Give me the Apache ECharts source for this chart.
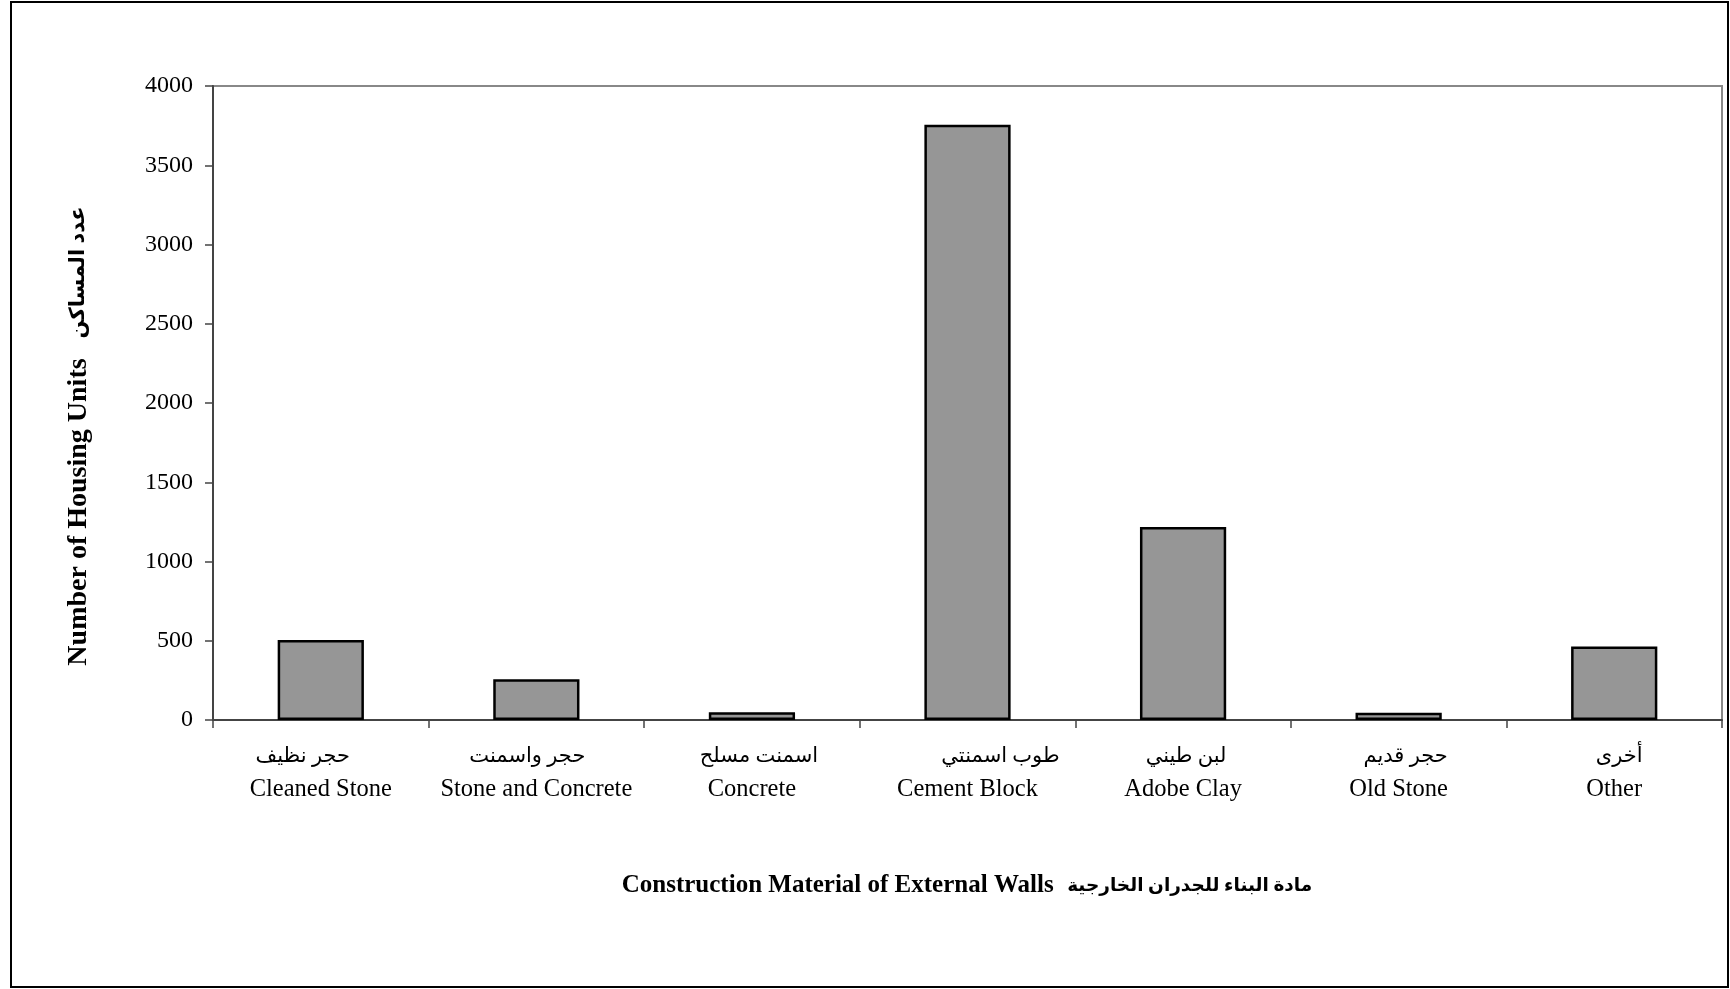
<!DOCTYPE html>
<html>
<head>
<meta charset="utf-8">
<script src="https://cdn.jsdelivr.net/npm/echarts@6/dist/echarts.min.js"></script>
<style>
html,body{margin:0;padding:0;background:#fff;}
#chart{width:1730px;height:989px;}
</style>
</head>
<body>
<div id="chart"></div>
<script>
const categoriesAr = ['حجر نظيف', 'حجر واسمنت', 'اسمنت مسلح', 'طوب اسمنتي', 'لبن طيني', 'حجر قديم', 'أخرى'];
const categoriesEn = ['Cleaned Stone', 'Stone and Concrete', 'Concrete', 'Cement Block', 'Adobe Clay', 'Old Stone', 'Other'];
const housingUnits = [505, 257, 49, 3755, 1217, 45, 463];
const yTicks = [0, 500, 1000, 1500, 2000, 2500, 3000, 3500, 4000];

const FONT = '"Liberation Serif", "Times New Roman", "DejaVu Sans", serif';
// horizontal nudges (px) of the Arabic label line, as in the original layout
const arShift = [-18, -9, 7, 33, 3, 7, 5];
const richStyles = {en: {fontFamily: FONT, fontSize: 24.5, lineHeight: 34, color: '#000'}};
arShift.forEach(function (d, i) {
  richStyles['ar' + i] = {
    fontFamily: FONT, fontSize: 21, lineHeight: 34, color: '#000',
    padding: d >= 0 ? [0, 0, 0, 2 * d] : [0, -2 * d, 0, 0]
  };
});

const chart = echarts.init(document.getElementById('chart'), null, {renderer: 'canvas'});
chart.setOption({
  backgroundColor: '#fff',
  animation: false,
  grid: {left: 213, right: 8, top: 86, bottom: 269, show: true, borderColor: '#888', borderWidth: 2, backgroundColor: 'transparent'},
  xAxis: {
    type: 'category',
    data: categoriesEn,
    axisLine: {show: true, lineStyle: {color: '#444', width: 2}},
    axisTick: {show: true, alignWithLabel: false, length: 8, lineStyle: {color: '#444', width: 1.5}},
    axisLabel: {
      margin: 19,
      interval: 0,
      fontFamily: FONT,
      color: '#000',
      formatter: function (v, i) { return '{ar' + i + '|' + categoriesAr[i] + '}\n{en|' + v + '}'; },
      rich: richStyles
    },
    splitLine: {show: false}
  },
  yAxis: {
    type: 'value',
    min: yTicks[0],
    max: yTicks[yTicks.length - 1],
    interval: 500,
    axisLine: {show: true, lineStyle: {color: '#444', width: 2}},
    axisTick: {show: true, length: 8, lineStyle: {color: '#444', width: 1.5}},
    axisLabel: {margin: 20, fontFamily: FONT, fontSize: 24, color: '#000', formatter: function (v) { return String(v); }},
    splitLine: {show: false}
  },
  series: [{
    type: 'bar',
    data: housingUnits,
    barCategoryGap: '60%',
    itemStyle: {color: '#969696', borderColor: '#000', borderWidth: 2.5}
  }],
  graphic: [
    {type: 'rect', shape: {x: 11, y: 2, width: 1717, height: 985}, style: {fill: 'none', stroke: '#000', lineWidth: 2}, z: 100},
    {type: 'text', x: 79, y: 436, rotation: Math.PI / 2,
      style: {
        text: '{en|Number of Housing Units}{sp|    }{ar|عدد المساكن}',
        fill: '#000', textAlign: 'center', textVerticalAlign: 'middle',
        rich: {
          en: {fontFamily: FONT, fontWeight: 'bold', fontSize: 28, fill: '#000'},
          sp: {fontFamily: FONT, fontSize: 20},
          ar: {fontFamily: FONT, fontWeight: 'bold', fontSize: 21, fill: '#000'}
        }
      }},
    {type: 'text', x: 967, y: 886,
      style: {
        text: '{en|Construction Material of External Walls}{sp|   }{ar|مادة البناء للجدران الخارجية}',
        fill: '#000', textAlign: 'center', textVerticalAlign: 'middle',
        rich: {
          en: {fontFamily: FONT, fontWeight: 'bold', fontSize: 25, fill: '#000'},
          sp: {fontFamily: FONT, fontSize: 18},
          ar: {fontFamily: FONT, fontWeight: 'bold', fontSize: 18.5, fill: '#000'}
        }
      }}
  ]
});
</script>
</body>
</html>
